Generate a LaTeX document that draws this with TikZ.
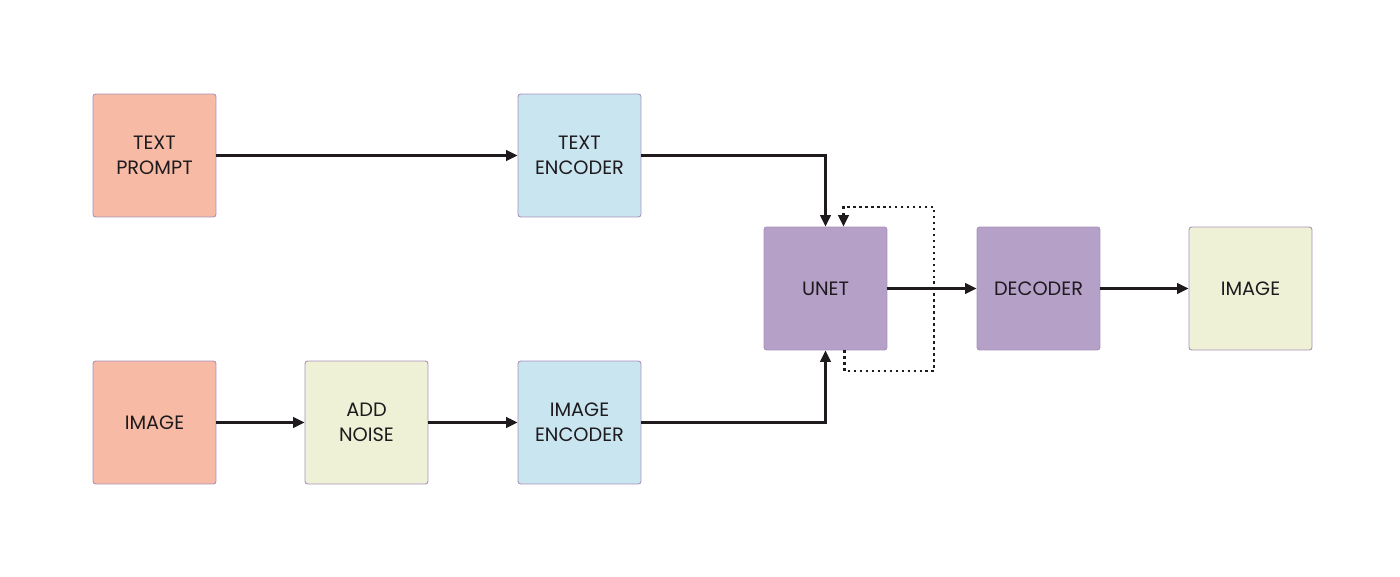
\documentclass[tikz,border=0pt]{standalone}
\usepackage{fontspec}
\setmainfont{Poppins}
\usetikzlibrary{arrows.meta,positioning}
\definecolor{salmon}{HTML}{F7BBA5}
\definecolor{skyb}{HTML}{C9E5F0}
\definecolor{lilac}{HTML}{B5A0C7}
\definecolor{paleg}{HTML}{EEF1D5}
\definecolor{edge}{HTML}{A890BA}
\definecolor{ink}{HTML}{1E1A1E}

\begin{document}
\begin{tikzpicture}[
    x=0.02cm, y=-0.02cm,
    every node/.style={font=\fontsize{11}{14.5}\selectfont, text=ink},
    blk/.style={rectangle, rounded corners=1.5pt, draw=edge, line width=0.5pt, minimum width=2.46cm, minimum height=2.46cm, align=center, inner sep=0pt},
    src/.style={blk, fill=salmon},
    enc/.style={blk, fill=skyb},
    net/.style={blk, fill=lilac},
    pale/.style={blk, fill=paleg},
    flow/.style={draw=ink, line width=1.4pt, -{Triangle[length=6.5pt,width=6pt]}},
    recur/.style={draw=ink, line width=1.4pt, dotted, -{Triangle[length=6.5pt,width=6pt]}}
]
    \useasboundingbox (0,0) rectangle (1400,577);

    % Inputs
    \node[src] (tprompt) at (154.5,155.5) {TEXT\\PROMPT};
    \node[src] (imgin) at (154.5,422.5) {IMAGE};
    \node[pale] (noise) at (366.5,422.5) {ADD\\NOISE};

    % Encoders
    \node[enc] (tenc) at (579.5,155.5) {TEXT\\ENCODER};
    \node[enc] (ienc) at (579.5,422.5) {IMAGE\\ENCODER};

    % Diffusion and output
    \node[net] (unet) at (825.5,288.5) {UNET};
    \node[net] (dec) at (1038.5,288.5) {DECODER};
    \node[pale] (imgout) at (1250.5,288.5) {IMAGE};

    % Loop corners
    \coordinate (lpbot) at (934,371);
    \coordinate (lptop) at (934,207);

    % Connections
    \draw[flow] (tprompt) -- (tenc);
    \draw[flow] (imgin) -- (noise);
    \draw[flow] (noise) -- (ienc);
    \draw[flow] (tenc.east) -| (unet.north);
    \draw[flow] (ienc.east) -| (unet.south);
    \draw[recur] ([xshift=0.38cm]unet.south) |- (lpbot) -- (lptop) -| ([xshift=0.36cm]unet.north);
    \draw[flow] (unet) -- (dec);
    \draw[flow] (dec) -- (imgout);
\end{tikzpicture}
\end{document}
